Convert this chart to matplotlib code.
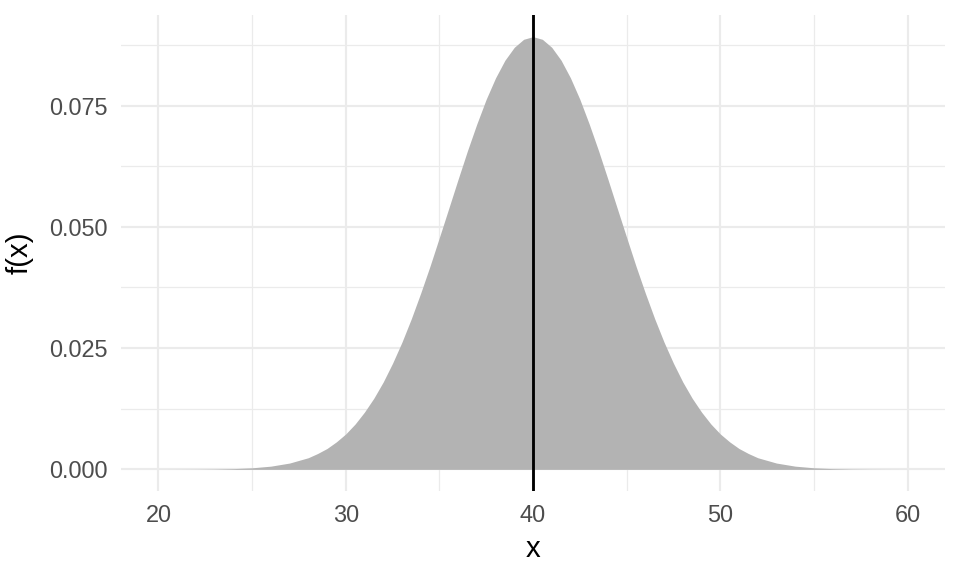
import matplotlib
matplotlib.use("Agg")
import matplotlib.pyplot as plt
from matplotlib.ticker import MultipleLocator

# Density values: distance from the mean (right half; curve is symmetric)
offsets = [0, 0.5, 1, 1.5, 2, 2.5, 3, 3.5, 4, 4.5, 5, 5.5, 6, 6.5, 7, 7.5,
           8, 8.5, 9, 9.5, 10, 10.5, 11, 11.5, 12, 13, 14, 15, 16, 17, 18, 19, 20]
half_density = [0.0892, 0.08865, 0.0870, 0.08433, 0.0807, 0.0763, 0.0712, 0.06568,
                0.0598, 0.05378, 0.0478, 0.04188, 0.0363, 0.03103, 0.0262, 0.02187,
                0.0180, 0.01466, 0.0118, 0.00934, 0.0073, 0.00567, 0.0043, 0.00327,
                0.0024, 0.0013, 0.00066, 0.00032, 0.00015, 0.000065, 0.000027,
                0.000011, 0.000004]
mean_line = 40

x_ticks = [20, 30, 40, 50, 60]
y_ticks = [0.0, 0.025, 0.05, 0.075]
y_tick_labels = ["0.000", "0.025", "0.050", "0.075"]

x_vals = [mean_line - o for o in offsets[::-1]] + [mean_line + o for o in offsets[1:]]
density = half_density[::-1] + half_density[1:]

plt.rcParams['font.family'] = ['Liberation Sans', 'DejaVu Sans']

fig = plt.figure(figsize=(5, 3), dpi=192)
ax = fig.add_axes([121/960, 1 - 491/576, (945-121)/960, (491-15)/576])

ax.fill_between(x_vals, 0, density, color='#B3B3B3', linewidth=0, zorder=2)
ax.axvline(mean_line, color='black', linewidth=1.07, zorder=3)

ax.set_xlim(18, 62)
ax.set_ylim(-0.00446, 0.0892 + 0.00446)
ax.set_xticks(x_ticks)
ax.set_xticklabels([str(t) for t in x_ticks])
ax.set_yticks(y_ticks)
ax.set_yticklabels(y_tick_labels)
ax.xaxis.set_minor_locator(MultipleLocator(5))
ax.yaxis.set_minor_locator(MultipleLocator(0.0125))

ax.grid(which='major', color='#EBEBEB', linewidth=0.8, zorder=0)
ax.grid(which='minor', color='#EBEBEB', linewidth=0.45, zorder=0)
ax.set_axisbelow(True)
for s in ax.spines.values():
    s.set_visible(False)
ax.tick_params(which='both', length=0)
ax.tick_params(axis='x', labelsize=8.8, labelcolor='#4D4D4D', pad=5)
ax.tick_params(axis='y', labelsize=8.8, labelcolor='#4D4D4D', pad=5)

ax.set_xlabel('x', fontsize=11, color='black', labelpad=3)
ax.set_ylabel('f(x)', fontsize=11, color='black', labelpad=6)

fig.savefig('out.png', dpi=192)
